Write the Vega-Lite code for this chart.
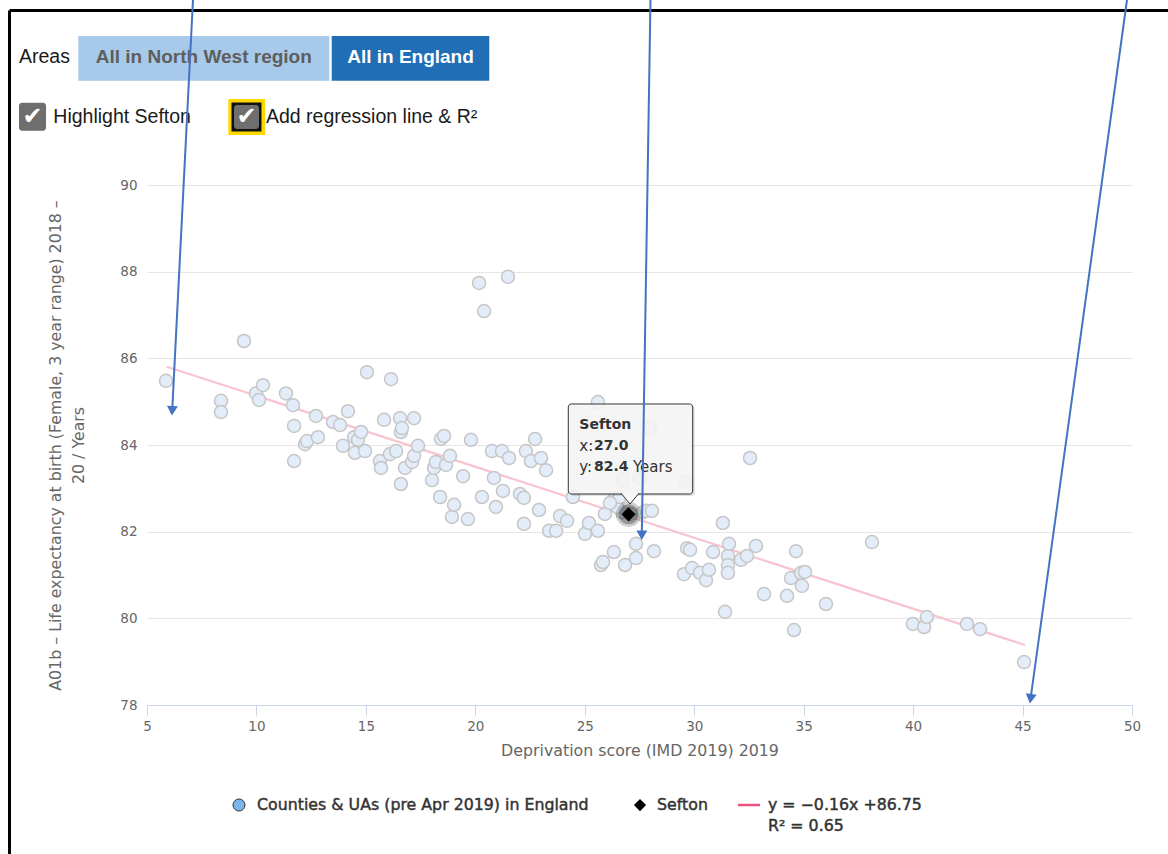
{
"$schema":"https://vega.github.io/schema/vega-lite/v6.json",
"width":985,"height":520,
"autosize":{"type":"none"},
"padding":{"left":147,"top":185,"right":36,"bottom":149},
"background":"#ffffff",
"config":{"view":{"stroke":null},"font":"DejaVu Sans"},
"datasets":{
"points":[
{"x":5.87,"y":85.48},{"x":8.38,"y":85.02},{"x":8.38,"y":84.76},{"x":9.43,"y":86.40},{"x":9.98,"y":85.19},{"x":10.12,"y":85.04},{"x":10.30,"y":85.38},{"x":11.35,"y":85.19},{"x":11.67,"y":84.92},{"x":11.72,"y":84.44},{"x":11.72,"y":83.63},{"x":12.22,"y":84.02},{"x":12.31,"y":84.09},{"x":12.72,"y":84.67},{"x":12.81,"y":84.18},{"x":13.50,"y":84.53},{"x":13.82,"y":84.46},{"x":13.95,"y":83.98},{"x":14.18,"y":84.78},{"x":14.46,"y":84.18},{"x":14.50,"y":83.82},{"x":14.64,"y":84.12},{"x":14.78,"y":84.30},{"x":14.96,"y":83.86},{"x":15.05,"y":85.68},{"x":15.64,"y":83.63},{"x":15.69,"y":83.47},{"x":15.83,"y":84.58},{"x":16.15,"y":85.52},{"x":16.10,"y":83.79},{"x":16.38,"y":83.86},{"x":16.56,"y":84.62},{"x":16.60,"y":84.30},{"x":16.60,"y":83.10},{"x":16.79,"y":83.47},{"x":17.11,"y":83.61},{"x":17.20,"y":84.62},{"x":17.20,"y":83.75},{"x":17.38,"y":83.98},{"x":18.02,"y":83.19},{"x":18.11,"y":83.47},{"x":18.20,"y":83.61},{"x":18.39,"y":82.80},{"x":18.43,"y":84.14},{"x":18.57,"y":84.21},{"x":18.66,"y":83.54},{"x":18.84,"y":83.75},{"x":18.93,"y":82.34},{"x":19.03,"y":82.62},{"x":19.44,"y":83.28},{"x":19.66,"y":82.29},{"x":19.80,"y":84.12},{"x":20.17,"y":87.74},{"x":20.40,"y":87.09},{"x":20.30,"y":82.80},{"x":20.76,"y":83.86},{"x":20.85,"y":83.24},{"x":20.94,"y":82.57},{"x":21.22,"y":83.86},{"x":21.26,"y":82.94},{"x":21.49,"y":87.88},{"x":21.54,"y":83.70},{"x":22.04,"y":82.87},{"x":22.22,"y":82.78},{"x":22.22,"y":82.18},{"x":22.31,"y":83.86},{"x":22.54,"y":83.63},{"x":22.73,"y":84.14},{"x":22.91,"y":82.50},{"x":23.00,"y":83.70},{"x":23.23,"y":83.42},{"x":23.37,"y":82.02},{"x":23.69,"y":82.02},{"x":23.87,"y":82.36},{"x":24.19,"y":82.25},{"x":24.46,"y":82.80},{"x":25.01,"y":81.95},{"x":25.19,"y":82.20},{"x":25.60,"y":84.99},{"x":25.60,"y":82.02},{"x":25.74,"y":81.23},{"x":25.83,"y":81.30},{"x":25.92,"y":82.41},{"x":26.33,"y":81.53},{"x":26.38,"y":82.78},{"x":26.70,"y":82.45},{"x":26.84,"y":81.23},{"x":27.07,"y":82.41},{"x":27.34,"y":81.39},{"x":27.34,"y":81.72},{"x":27.66,"y":82.45},{"x":27.84,"y":82.48},{"x":28.16,"y":81.55},{"x":28.07,"y":82.48},{"x":29.62,"y":83.15},{"x":29.67,"y":81.62},{"x":29.53,"y":81.02},{"x":29.81,"y":81.58},{"x":29.90,"y":81.16},{"x":30.26,"y":81.05},{"x":30.54,"y":80.88},{"x":30.67,"y":81.12},{"x":30.86,"y":81.53},{"x":31.31,"y":82.20},{"x":31.41,"y":80.15},{"x":31.54,"y":81.44},{"x":31.54,"y":81.23},{"x":31.59,"y":81.72},{"x":31.54,"y":81.05},{"x":32.14,"y":81.35},{"x":32.41,"y":81.44},{"x":32.55,"y":83.70},{"x":32.82,"y":81.67},{"x":33.19,"y":80.56},{"x":34.24,"y":80.52},{"x":34.42,"y":80.93},{"x":34.56,"y":79.73},{"x":34.65,"y":81.55},{"x":34.88,"y":81.05},{"x":34.92,"y":80.75},{"x":35.06,"y":81.07},{"x":36.02,"y":80.33},{"x":38.12,"y":81.76},{"x":39.99,"y":79.87},{"x":40.50,"y":79.80},{"x":40.63,"y":80.03},{"x":42.46,"y":79.87},{"x":43.06,"y":79.75},{"x":45.07,"y":78.99},
{"x":27.98,"y":84.39},{"x":26.75,"y":83.19},{"x":27.52,"y":83.24},{"x":26.47,"y":82.57},{"x":26.60,"y":82.80},{"x":26.15,"y":82.66},{"x":16.65,"y":84.39}
],
"sefton":[{"area":"Sefton","x":27.0,"y":82.4}],
"regression":[{"x":5.90,"y":85.807},{"x":45.11,"y":79.385}],
"frame":[{"x":-1.282,"y":94.027,"x2":51.645,"y2":94.027},{"x":-1.282,"y":94.027,"x2":-1.282,"y2":74.562}],
"buttons":[{"state":"off","x":1.861,"x2":13.328,"y":93.438,"y2":92.407},{"state":"on","x":13.438,"x2":20.638,"y":93.438,"y2":92.407}],
"button_labels":[{"state":"off","label":"All in North West region","x":7.594,"y":92.961},{"state":"on","label":"All in England","x":17.038,"y":92.961}],
"ui_labels":[{"label":"Areas","x":-0.848,"y":92.961},{"label":"Highlight Sefton","x":0.719,"y":91.561},{"label":"Add regression line & R²","x":10.436,"y":91.561}],
"focus_box":[{"x":8.717,"x2":10.394,"y":91.984,"y2":91.154}],
"focus_inner":[{"x":8.860,"x2":10.230,"y":91.904,"y2":91.235}],
"checkboxes":[{"x":-0.848,"x2":0.386,"y":91.899,"y2":91.253},{"x":8.975,"x2":10.117,"y":91.846,"y2":91.292}],
"checkmarks":[{"x":-0.231,"y":91.569},{"x":9.546,"y":91.569}],
"tooltip_shadow":[{"x":24.339,"x2":30.022,"y":84.900,"y2":82.823}],
"tooltip_box":[{"x":24.247,"x2":29.930,"y":84.946,"y2":82.869}],
"tooltip_pointer":[{"x":27.066,"y":82.765}],
"tooltip_bold":[{"label":"Sefton","x":24.750,"y":84.462},{"label":"27.0","x":25.42,"y":83.977},{"label":"82.4","x":25.42,"y":83.485}],
"tooltip_regular":[{"label":"x:","x":24.750,"y":83.977},{"label":"y:","x":24.750,"y":83.485},{"label":"Years","x":27.20,"y":83.485}],
"legend_circle":[{"x":9.203,"y":75.692}],
"legend_diamond":[{"x":27.523,"y":75.692}],
"legend_line":[{"x":32.0,"y":75.692,"x2":33.005,"y2":75.692}],
"legend_text":[{"label":"Counties & UAs (pre Apr 2019) in England","x":10.025,"y":75.692},{"label":"Sefton","x":28.299,"y":75.692},{"label":"y = −0.16x +86.75","x":33.370,"y":75.692},{"label":"R² = 0.65","x":33.370,"y":75.208}],
"arrows":[{"x":7.101,"y":94.269,"x2":6.151,"y2":84.792},{"x":28.002,"y":94.269,"x2":27.605,"y2":81.918},{"x":49.771,"y":94.269,"x2":45.367,"y2":78.145}],
"arrow_heads":[{"arrow":1,"x":6.151,"y":84.792},{"arrow":2,"x":27.605,"y":81.918},{"arrow":3,"x":45.367,"y":78.145}]
},
"encoding":{
"x":{"field":"x","type":"quantitative","scale":{"domain":[5,50],"nice":false,"zero":false},
 "axis":{"title":"Deprivation score (IMD 2019) 2019","values":[5,10,15,20,25,30,35,40,45,50],"grid":false,"domainColor":"#ccd6eb","tickColor":"#ccd6eb","tickSize":10,"labelColor":"#666666","labelFontSize":13.5,"labelPadding":4,"labelFlush":false,"titleColor":"#666666","titleFontSize":15.8,"titleFontWeight":"normal","titlePadding":11}},
"y":{"field":"y","type":"quantitative","scale":{"domain":[78,90],"nice":false,"zero":false},
 "axis":{"title":["A01b – Life expectancy at birth (Female, 3 year range) 2018 –","20 / Years"],"values":[78,80,82,84,86,88,90],"domain":false,"ticks":false,"grid":true,"gridColor":"#e6e6e6","labelColor":"#666666","labelFontSize":13.5,"labelPadding":10,"labelFlush":false,"titleColor":"#666666","titleFontSize":15.8,"titleFontWeight":"normal","titleLineHeight":23,"titlePadding":33}}
},
"layer":[
{"data":{"name":"frame"},"mark":{"type":"rule","color":"#000000","strokeWidth":3},"encoding":{"x2":{"field":"x2"},"y2":{"field":"y2"}}},
{"data":{"name":"buttons"},"transform":[{"filter":"datum.state == 'off'"}],"mark":{"type":"rect","fill":"#a7c9ea"},"encoding":{"x2":{"field":"x2"},"y2":{"field":"y2"}}},
{"data":{"name":"buttons"},"transform":[{"filter":"datum.state == 'on'"}],"mark":{"type":"rect","fill":"#1f6eb6"},"encoding":{"x2":{"field":"x2"},"y2":{"field":"y2"}}},
{"data":{"name":"button_labels"},"transform":[{"filter":"datum.state == 'off'"}],"mark":{"type":"text","font":"Liberation Sans","fontSize":19,"fontWeight":"bold","color":"#5e5e5e","align":"center","baseline":"middle"},"encoding":{"text":{"field":"label"}}},
{"data":{"name":"button_labels"},"transform":[{"filter":"datum.state == 'on'"}],"mark":{"type":"text","font":"Liberation Sans","fontSize":19,"fontWeight":"bold","color":"#ffffff","align":"center","baseline":"middle"},"encoding":{"text":{"field":"label"}}},
{"data":{"name":"ui_labels"},"mark":{"type":"text","font":"Liberation Sans","fontSize":19.5,"color":"#1a1a1a","align":"left","baseline":"middle"},"encoding":{"text":{"field":"label"}}},
{"data":{"name":"focus_box"},"mark":{"type":"rect","fill":"#ffd800"},"encoding":{"x2":{"field":"x2"},"y2":{"field":"y2"}}},
{"data":{"name":"focus_inner"},"mark":{"type":"rect","fill":"#111111"},"encoding":{"x2":{"field":"x2"},"y2":{"field":"y2"}}},
{"data":{"name":"checkboxes"},"mark":{"type":"rect","fill":"#6e6e6e","cornerRadius":3},"encoding":{"x2":{"field":"x2"},"y2":{"field":"y2"}}},
{"data":{"name":"checkmarks"},"mark":{"type":"text","text":"✔","fontSize":24,"color":"#ffffff","align":"center","baseline":"middle"}},
{"data":{"name":"regression"},"mark":{"type":"line","color":"#f8c4d0","strokeWidth":2.2}},
{"data":{"name":"points"},"mark":{"type":"point","shape":"circle","filled":true,"size":169,"fill":"#e3edf9","stroke":"#c6c6c6","strokeWidth":1.5,"opacity":1,"fillOpacity":1,"strokeOpacity":1}},
{"data":{"name":"sefton"},"mark":{"type":"point","shape":"circle","filled":true,"size":650,"color":"#000000","opacity":0.18,"strokeWidth":0}},
{"data":{"name":"sefton"},"mark":{"type":"point","shape":"circle","filled":true,"size":400,"color":"#000000","opacity":0.28,"strokeWidth":0}},
{"data":{"name":"sefton"},"mark":{"type":"point","shape":"diamond","filled":true,"size":200,"color":"#000000","opacity":1}},
{"data":{"name":"tooltip_shadow"},"mark":{"type":"rect","fill":"#000000","opacity":0.12,"cornerRadius":3},"encoding":{"x2":{"field":"x2"},"y2":{"field":"y2"}}},
{"data":{"name":"tooltip_box"},"mark":{"type":"rect","fill":"#f7f7f7","fillOpacity":0.88,"stroke":"#333333","strokeWidth":1,"cornerRadius":3},"encoding":{"x2":{"field":"x2"},"y2":{"field":"y2"}}},
{"data":{"name":"tooltip_pointer"},"mark":{"type":"point","shape":"M-1,-0.6L0,0.6L1,-0.6","filled":true,"size":336,"fill":"#f7f7f7","stroke":"#333333","strokeWidth":1,"opacity":1}},
{"data":{"name":"tooltip_bold"},"mark":{"type":"text","fontSize":14,"fontWeight":"bold","color":"#333333","align":"left","baseline":"middle"},"encoding":{"text":{"field":"label"}}},
{"data":{"name":"tooltip_regular"},"mark":{"type":"text","fontSize":15,"color":"#333333","align":"left","baseline":"middle"},"encoding":{"text":{"field":"label"}}},
{"data":{"name":"legend_circle"},"mark":{"type":"point","shape":"circle","filled":true,"size":144,"fill":"#7cb5ec","stroke":"#333333","strokeWidth":1,"opacity":1}},
{"data":{"name":"legend_diamond"},"mark":{"type":"point","shape":"diamond","filled":true,"size":150,"color":"#000000","opacity":1}},
{"data":{"name":"legend_line"},"mark":{"type":"rule","color":"#f0507c","strokeWidth":2.5},"encoding":{"x2":{"field":"x2"},"y2":{"field":"y2"}}},
{"data":{"name":"legend_text"},"mark":{"type":"text","fontSize":15.8,"color":"#333333","align":"left","baseline":"middle","stroke":"#333333","strokeWidth":0.45},"encoding":{"text":{"field":"label"}}},
{"data":{"name":"arrows"},"mark":{"type":"rule","color":"#4472c4","strokeWidth":2},"encoding":{"x2":{"field":"x2"},"y2":{"field":"y2"}}},
{"data":{"name":"arrow_heads"},"transform":[{"filter":"datum.arrow == 1"}],"mark":{"type":"point","shape":"triangle-down","filled":true,"size":120,"color":"#4472c4","opacity":1,"angle":2.9}},
{"data":{"name":"arrow_heads"},"transform":[{"filter":"datum.arrow == 2"}],"mark":{"type":"point","shape":"triangle-down","filled":true,"size":120,"color":"#4472c4","opacity":1,"angle":0.9}},
{"data":{"name":"arrow_heads"},"transform":[{"filter":"datum.arrow == 3"}],"mark":{"type":"point","shape":"triangle-down","filled":true,"size":120,"color":"#4472c4","opacity":1,"angle":7.9}}
]
}
